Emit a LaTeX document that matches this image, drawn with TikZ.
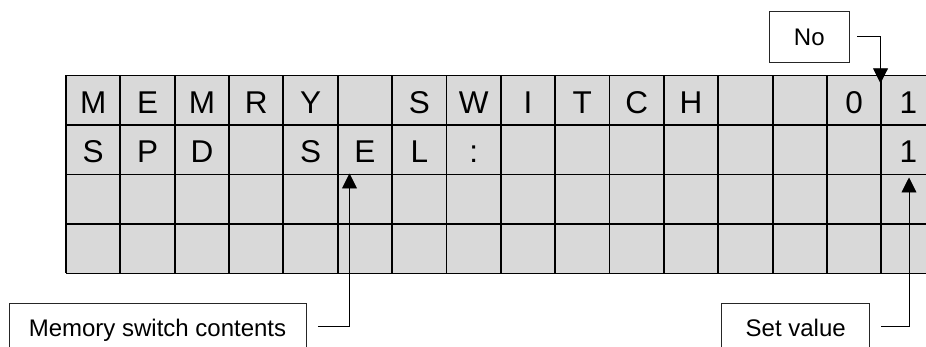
\documentclass[tikz,border=0pt]{standalone}
\usepackage{fontspec}
\setmainfont{Liberation Sans}
\usetikzlibrary{arrows.meta, positioning, calc}

\definecolor{lcdgray}{HTML}{D9D9D9}

\begin{document}
\begin{tikzpicture}[x=1pt, y=-1pt, >={Triangle[length=15pt, width=15pt]},
  cell/.style={font=\fontsize{31.5}{32}\selectfont, anchor=base, inner sep=0pt},
  tag/.style={draw=black!85, line width=0.8pt, font=\fontsize{24}{25}\selectfont,
    text height=17pt, text depth=0pt, inner sep=0pt},
  conn/.style={->, line width=0.9pt}]
  \useasboundingbox (0,0) rectangle (926,347);

  % LCD panel: 16 columns x 4 rows
  \fill[lcdgray] (66,75.5) rectangle (936,273.5);
  \foreach \k in {0,...,16}
    \draw[line width=1.9pt] ({66+\k*54.35},75.5) -- ({66+\k*54.35},273.5);
  \foreach \j in {0,...,4}
    \draw[line width=1.9pt] (66,{75.5+\j*49.5}) -- (936,{75.5+\j*49.5});

  % characters
  \foreach \i/\ch in {1/M,2/E,3/M,4/R,5/Y,7/S,8/W,9/I,10/T,11/C,12/H,15/0,16/1}
    \node[cell] (c1-\i) at ({66+(\i-0.5)*54.35},113.3) {\ch};
  \foreach \i/\ch in {1/S,2/P,3/D,5/S,6/E,7/L,8/:,16/1}
    \node[cell] (c2-\i) at ({66+(\i-0.5)*54.35},162.5) {\ch};

  % callouts
  \node[tag, minimum width=79.5pt, minimum height=50.3pt] (no) at (809.3,36.8) {No};
  \node[tag, minimum width=297pt, minimum height=50pt] (contents) at (157.5,328.3) {Memory switch contents};
  \node[tag, minimum width=148pt, minimum height=50pt] (setval) at (795.7,328.3) {Set value};

  \coordinate (noTip) at (880.5,83.3);
  \coordinate (memTip) at (349.5,173.5);
  \coordinate (setTip) at (909,177.5);

  \draw[conn] ([xshift=8pt]no.east) -| (noTip);
  \draw[conn] ([xshift=11.5pt, yshift=1.5pt]contents.east) -| (memTip);
  \draw[conn] ([xshift=11pt, yshift=2pt]setval.east) -| (setTip);
\end{tikzpicture}
\end{document}
